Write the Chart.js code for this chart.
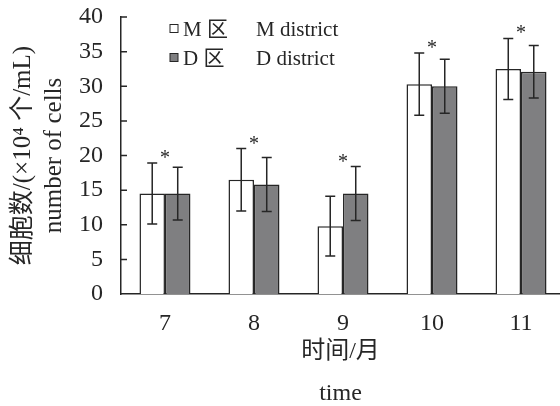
<!DOCTYPE html>
<html>
<head>
<meta charset="utf-8">
<script src="https://cdn.jsdelivr.net/npm/chart.js@4/dist/chart.umd.min.js"></script>
<style>
  body { margin: 0; background: #fff; }
</style>
</head>
<body>
<canvas id="cells" width="560" height="406"></canvas>
<script>
// Values
const months = [7, 8, 9, 10, 11];
const mValues = [14.5, 16.5, 9.8, 30.3, 32.5];
const dValues = [14.5, 15.8, 14.5, 30.0, 32.1];
const mErrors = [4.4, 4.5, 4.3, 4.5, 4.4];
const dErrors = [3.8, 3.9, 3.9, 3.9, 3.8];
const marks = ['*', '*', '*', '*', '*'];
const yTicks = [0, 5, 10, 15, 20, 25, 30, 35, 40];
const legendCn = ['M 区', 'D 区'];
const legendEn = ['M district', 'D district'];

const serif = '"Liberation Serif", "Noto Sans CJK SC", serif';
const ink = '#262626';

// error bars, significance stars, inward y ticks and the legend
const extras = {
  id: 'extras',
  afterDatasetsDraw(chart) {
    const ctx = chart.ctx;
    const y = chart.scales.y;
    const errs = [mErrors, dErrors];
    const tops = [];
    ctx.save();
    ctx.strokeStyle = ink;
    ctx.lineWidth = 1.5;
    chart.data.datasets.forEach((ds, di) => {
      chart.getDatasetMeta(di).data.forEach((bar, i) => {
        const v = ds.data[i].y;
        const hi = y.getPixelForValue(v + errs[di][i]);
        const lo = y.getPixelForValue(v - errs[di][i]);
        ctx.beginPath();
        ctx.moveTo(bar.x, hi); ctx.lineTo(bar.x, lo);
        ctx.moveTo(bar.x - 5, hi); ctx.lineTo(bar.x + 5, hi);
        ctx.moveTo(bar.x - 5, lo); ctx.lineTo(bar.x + 5, lo);
        ctx.stroke();
        tops[i] = Math.min(tops[i] === undefined ? Infinity : tops[i], hi);
      });
    });

    // stars above each month
    const x = chart.scales.x;
    ctx.fillStyle = ink;
    ctx.font = '20px ' + serif;
    ctx.textAlign = 'center';
    ctx.textBaseline = 'alphabetic';
    months.forEach((m, i) => {
      if (marks[i]) ctx.fillText(marks[i], x.getPixelForValue(m), tops[i] + 1);
    });

    // ticks pointing into the plot
    const left = chart.chartArea.left;
    ctx.beginPath();
    yTicks.slice(1).forEach(t => {
      const py = y.getPixelForValue(t);
      ctx.moveTo(left, py); ctx.lineTo(left + 6, py);
    });
    ctx.stroke();

    // legend
    ctx.font = '21px ' + serif;
    ctx.textAlign = 'left';
    ctx.textBaseline = 'middle';
    chart.data.datasets.forEach((ds, di) => {
      const ly = 30 + di * 29;
      ctx.fillStyle = ds.backgroundColor;
      ctx.fillRect(170, ly - 5.5, 8, 8);
      ctx.lineWidth = 1;
      ctx.strokeRect(170, ly - 5.5, 8, 8);
      ctx.fillStyle = ink;
      ctx.fillText(legendCn[di], 183, ly);
      ctx.fillText(legendEn[di], 256, ly);
    });
    ctx.restore();
  }
};

new Chart(document.getElementById('cells'), {
  type: 'bar',
  data: {
    datasets: [
      {
        label: legendEn[0],
        data: months.map((m, i) => ({ x: m, y: mValues[i] })),
        backgroundColor: '#ffffff',
        borderColor: ink,
        borderWidth: 1.5
      },
      {
        label: legendEn[1],
        data: months.map((m, i) => ({ x: m, y: dValues[i] })),
        backgroundColor: '#7f7f81',
        borderColor: ink,
        borderWidth: 1.5
      }
    ]
  },
  options: {
    responsive: false,
    animation: false,
    devicePixelRatio: 1,
    layout: { padding: { top: 17, right: 0, bottom: 0, left: 0 } },
    datasets: { bar: { barPercentage: 1, categoryPercentage: 0.573 } },
    plugins: { legend: { display: false }, tooltip: { enabled: false } },
    scales: {
      x: {
        type: 'linear',
        offset: false,
        min: 6.506,
        max: 11.438,
        afterBuildTicks: s => { s.ticks = months.map(v => ({ value: v })); },
        afterFit: s => { s.height = 112; s.paddingLeft = 0; s.paddingRight = 0; },
        grid: { display: false, drawTicks: false, offset: false },
        border: { color: ink, width: 1.5 },
        ticks: { color: ink, padding: 15, font: { family: serif, size: 24 } },
        title: {
          display: true,
          text: ['时间/月', 'time'],
          color: ink,
          font: { family: serif, size: 24, lineHeight: '42px' },
          padding: { top: 0, bottom: -9 }
        }
      },
      y: {
        min: 0,
        max: 40,
        afterBuildTicks: s => { s.ticks = yTicks.map(v => ({ value: v })); },
        afterFit: s => { s.width = 121; s.paddingTop = 0; s.paddingBottom = 0; },
        grid: { display: false, drawTicks: false },
        border: { color: ink, width: 1.5 },
        ticks: { color: ink, padding: 18, font: { family: serif, size: 24 } },
        title: {
          display: true,
          text: ['细胞数/(×10⁴ 个/mL)', 'number of cells'],
          color: ink,
          font: { family: serif, size: 25, lineHeight: '31px' },
          padding: { top: 8, bottom: 0 }
        }
      }
    }
  },
  plugins: [extras]
});
</script>
</body>
</html>
